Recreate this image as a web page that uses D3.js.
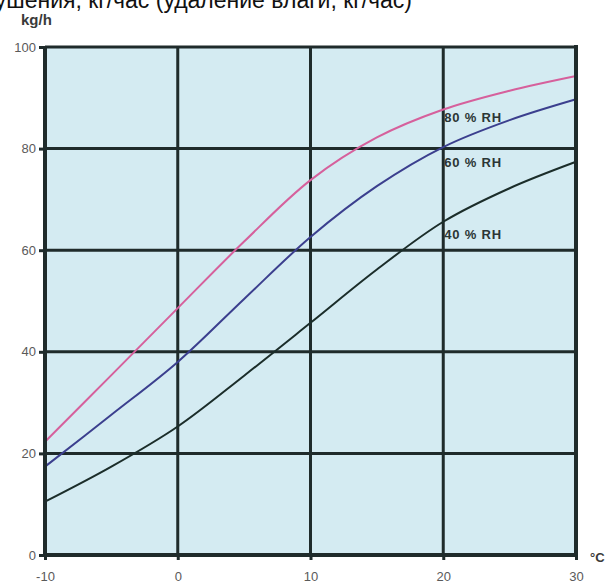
<!DOCTYPE html>
<html>
<head>
<meta charset="utf-8">
<script src="https://cdn.jsdelivr.net/npm/d3@7"></script>
<style>
  body { margin: 0; background: #fff; }
  svg { display: block; }
</style>
</head>
<body>
<div id="chart"></div>
<script>
// temperatures, °C
const temps = [-10, -5, 0, 5, 10, 15, 20, 25, 30]
// dehumidification, kg/h
const rh80 = [22.3, 35.4, 48.6, 61.7, 73.8, 82.2, 87.7, 91.4, 94.3]
const rh60 = [17.4, 27.6, 38, 50.4, 62.6, 72.6, 80.3, 85.6, 89.7]
const rh40 = [10.5, 17.4, 25.3, 35.3, 45.7, 56.2, 65.6, 72.2, 77.4]
const seriesNames = ['80 % RH', '60 % RH', '40 % RH']
const xTicks = [-10, 0, 10, 20, 30]
const yTicks = [0, 20, 40, 60, 80, 100]

const margin = { top: 47, left: 45, right: 33, bottom: 29 }
const width = 609 - margin.left - margin.right
const height = 584 - margin.top - margin.bottom

const root = d3.select('#chart')
  .append('svg')
  .attr('width', 609)
  .attr('height', 584)

// title, cut off at the top of the picture
root.append('text')
  .attr('x', 412)
  .attr('y', 8)
  .attr('text-anchor', 'end')
  .attr('font-family', 'Liberation Sans, Arial, sans-serif')
  .attr('font-size', 23)
  .attr('fill', '#111')
  .text('Производительность осушения, кг/час (удаление влаги, кг/час)')

root.append('text')
  .attr('x', 21)
  .attr('y', 25)
  .attr('font-family', 'Liberation Sans, Arial, sans-serif')
  .attr('font-weight', 'bold')
  .attr('font-size', 15)
  .attr('fill', '#3a3a3a')
  .text('kg/h')

const svg = root.append('g')
  .attr('transform', 'translate(' + margin.left + ',' + margin.top + ')')

const xPositionScale = d3.scaleLinear().domain([-10, 30]).range([0, width])
const yPositionScale = d3.scaleLinear().domain([0, 100]).range([height, 0])

svg.append('rect')
  .attr('x', 0)
  .attr('y', 0)
  .attr('width', width)
  .attr('height', height)
  .attr('fill', '#d4ebf2')

const gridColor = '#1f2b2b'

// grid
svg.append('g')
  .selectAll('line')
  .data(yTicks)
  .enter().append('line')
  .attr('x1', 0)
  .attr('x2', width)
  .attr('y1', d => yPositionScale(d))
  .attr('y2', d => yPositionScale(d))
  .attr('stroke', gridColor)
  .attr('stroke-width', 3)

svg.append('g')
  .selectAll('line')
  .data(xTicks)
  .enter().append('line')
  .attr('y1', 0)
  .attr('y2', height)
  .attr('x1', d => xPositionScale(d))
  .attr('x2', d => xPositionScale(d))
  .attr('stroke', gridColor)
  .attr('stroke-width', 3)

// curves
const line = d3.line()
  .x((d, i) => xPositionScale(temps[i]))
  .y(d => yPositionScale(d))
  .curve(d3.curveCatmullRom.alpha(0.5))

const curves = [
  { values: rh80, color: '#d6609c' },
  { values: rh60, color: '#3b3f8e' },
  { values: rh40, color: '#1b2d2a' }
]

svg.selectAll('.curve')
  .data(curves)
  .enter().append('path')
  .attr('class', 'curve')
  .attr('d', d => line(d.values))
  .attr('fill', 'none')
  .attr('stroke', d => d.color)
  .attr('stroke-width', 2)

// labels next to the 20 °C line
const labelY = [121.5, 167, 238.5]
svg.selectAll('.rh-label')
  .data(seriesNames)
  .enter().append('text')
  .attr('class', 'rh-label')
  .attr('x', xPositionScale(20) + 1)
  .attr('y', (d, i) => labelY[i] - margin.top)
  .attr('font-family', 'Liberation Sans, Arial, sans-serif')
  .attr('font-weight', 'bold')
  .attr('font-size', 13)
  .attr('letter-spacing', 0.8)
  .attr('fill', '#2b3535')
  .text(d => d)

// outer axes
const xAxis = d3.axisBottom(xPositionScale)
  .tickValues(xTicks)
  .tickFormat(d => String(d))
  .tickSize(5)
  .tickPadding(12)
svg.append('g')
  .attr('class', 'axis x-axis')
  .attr('transform', 'translate(0,' + height + ')')
  .call(xAxis)

const yAxis = d3.axisLeft(yPositionScale)
  .tickValues(yTicks)
  .tickFormat(d => String(d))
  .tickSize(6)
  .tickPadding(3)
svg.append('g')
  .attr('class', 'axis y-axis')
  .call(yAxis)

svg.selectAll('.axis .domain').remove()
svg.selectAll('.axis line')
  .attr('stroke', gridColor)
  .attr('stroke-width', 3)
svg.selectAll('.axis text')
  .attr('font-family', 'Liberation Sans, Arial, sans-serif')
  .attr('font-size', 13)
  .attr('fill', '#5a5a5a')

svg.append('line')
  .attr('x1', -1).attr('x2', width + 1)
  .attr('y1', height).attr('y2', height)
  .attr('stroke', gridColor).attr('stroke-width', 4)
svg.append('line')
  .attr('x1', 0).attr('x2', 0)
  .attr('y1', -1).attr('y2', height + 1)
  .attr('stroke', gridColor).attr('stroke-width', 4)
svg.append('line')
  .attr('x1', width).attr('x2', width)
  .attr('y1', -2).attr('y2', height + 1)
  .attr('stroke', gridColor).attr('stroke-width', 4)

root.append('text')
  .attr('x', 590)
  .attr('y', 562)
  .attr('font-family', 'Liberation Sans, Arial, sans-serif')
  .attr('font-weight', 'bold')
  .attr('font-size', 13)
  .attr('fill', '#3a3a3a')
  .text('°C')
</script>
</body>
</html>
